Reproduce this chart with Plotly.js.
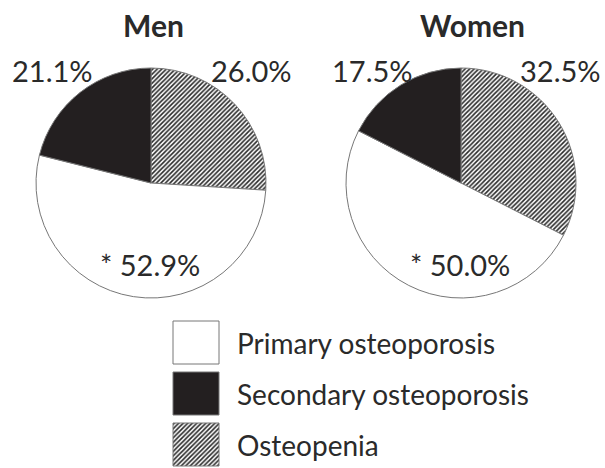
<!DOCTYPE html>
<html>
<head>
<meta charset="utf-8">
<script src="https://cdn.plot.ly/plotly-3.0.1.min.js"></script>
<style>html,body{margin:0;padding:0;background:#fff;}#chart{width:605px;height:468px;}</style>
</head>
<body>
<div id="chart"></div>
<script>
// ---- data ----
const groups = ['Men', 'Women'];
const categories = ['Osteopenia', 'Primary osteoporosis', 'Secondary osteoporosis'];
const menValues = [26.0, 52.9, 21.1];
const womenValues = [32.5, 50.0, 17.5];
const legendOrder = ['Primary osteoporosis', 'Secondary osteoporosis', 'Osteopenia'];
const significant = [false, true, false]; // '*' marker

// ---- styles ----
const FONT = 'Lato, "Open Sans", sans-serif';
const TXT = '#2a2a2a';
const BLACK = '#231f20';
const fillColor = {'Osteopenia': 'white', 'Primary osteoporosis': 'white', 'Secondary osteoporosis': BLACK};
const patternShape = {'Osteopenia': '/', 'Primary osteoporosis': '', 'Secondary osteoporosis': ''};
const PAT = {fgcolor: '#2a2a2a', size: 3.2, solidity: 0.5};

const W = 605, H = 468;
const pies = [
  {cx: 151, cy: 183, r: 115, title: {x: 153, y: 25}},
  {cx: 461, cy: 183, r: 115, title: {x: 472, y: 25}}
];
// label positions per slice (pixels): Osteopenia, Primary, Secondary
const labelPos = [
  [{x: 251, y: 70}, {x: 150, y: 264}, {x: 52, y: 70}],
  [{x: 560, y: 70}, {x: 460, y: 264}, {x: 372, y: 70}]
];

const allValues = [menValues, womenValues];
const traces = [];
const annotations = [];

allValues.forEach((vals, i) => {
  const p = pies[i];
  traces.push({
    type: 'pie',
    labels: categories,
    values: vals,
    sort: false,
    direction: 'clockwise',
    rotation: 0,
    textinfo: 'none',
    hoverinfo: 'label+value',
    showlegend: false,
    marker: {
      colors: categories.map(c => fillColor[c]),
      line: {color: '#777', width: 1},
      pattern: {
        shape: categories.map(c => patternShape[c]),
        fgcolor: PAT.fgcolor,
        bgcolor: categories.map(c => fillColor[c]),
        size: PAT.size,
        solidity: PAT.solidity
      }
    },
    domain: {
      x: [(p.cx - p.r) / W, (p.cx + p.r) / W],
      y: [1 - (p.cy + p.r) / H, 1 - (p.cy - p.r) / H]
    }
  });
  annotations.push({
    xref: 'paper', yref: 'paper', x: p.title.x / W, y: 1 - p.title.y / H,
    xanchor: 'center', yanchor: 'middle', showarrow: false,
    text: '<b>' + groups[i] + '</b>',
    font: {family: FONT, size: 30, color: TXT}
  });
  vals.forEach((v, k) => {
    const pos = labelPos[i][k];
    annotations.push({
      xref: 'paper', yref: 'paper', x: pos.x / W, y: 1 - pos.y / H,
      xanchor: 'center', yanchor: 'middle', showarrow: false,
      text: (significant[k] ? '* ' : '') + v.toFixed(1) + '%',
      font: {family: FONT, size: 29, color: TXT}
    });
  });
});

// ---- legend (drawn in a pixel-space helper axis) ----
const box = {x0: 173, w: 46, h: 43, y0: 321, step: 51, textX: 235};
legendOrder.forEach((c, j) => {
  const x0 = box.x0, x1 = box.x0 + box.w;
  const y0 = box.y0 + j * box.step, y1 = y0 + box.h;
  const pat = patternShape[c];
  traces.push({
    type: 'scatter', mode: 'lines',
    x: [x0, x1, x1, x0, x0], y: [y0, y0, y1, y1, y0],
    fill: 'toself',
    fillcolor: fillColor[c],
    fillpattern: pat ? {shape: pat, fgcolor: PAT.fgcolor, bgcolor: 'white', size: PAT.size, solidity: PAT.solidity} : undefined,
    line: {color: '#777', width: 1},
    hoverinfo: 'skip', showlegend: false,
    xaxis: 'x', yaxis: 'y'
  });
  annotations.push({
    xref: 'x', yref: 'y', x: box.textX, y: y0 + box.h / 2,
    xanchor: 'left', yanchor: 'middle', showarrow: false,
    text: c,
    font: {family: FONT, size: 28, color: TXT}
  });
});

const layout = {
  width: W, height: H,
  margin: {l: 0, r: 0, t: 0, b: 0},
  paper_bgcolor: 'white', plot_bgcolor: 'rgba(0,0,0,0)',
  showlegend: false,
  xaxis: {range: [0, W], visible: false, fixedrange: true, domain: [0, 1]},
  yaxis: {range: [H, 0], visible: false, fixedrange: true, domain: [0, 1]},
  annotations: annotations
};

Plotly.newPlot('chart', traces, layout, {displayModeBar: false, staticPlot: true});
</script>
</body>
</html>
